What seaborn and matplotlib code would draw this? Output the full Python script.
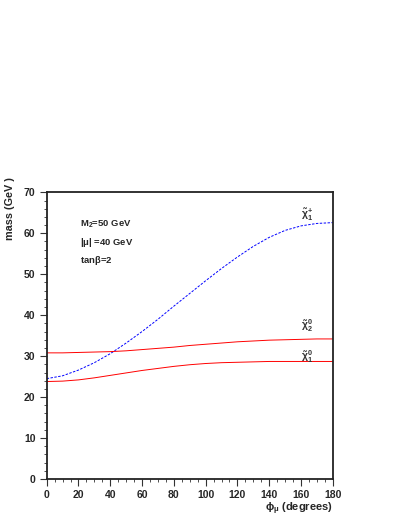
import pandas as pd
import seaborn as sns
import matplotlib.pyplot as plt
from matplotlib.ticker import MultipleLocator

# phase of mu (degrees) and masses (GeV)
phi = [0, 10, 20, 30, 40, 50, 60, 70, 80, 90, 100, 110, 120, 130, 140, 150, 160, 170, 180]
m_chargino1 = [24.5, 25.2, 26.6, 28.4, 30.6, 33.2, 36.0, 39.0, 42.2, 45.3, 48.4, 51.4, 54.2, 56.8, 59.0,
               60.7, 61.8, 62.4, 62.6]
m_neutralino2 = [30.8, 30.8, 30.9, 31.0, 31.1, 31.3, 31.6, 31.9, 32.2, 32.6, 32.9, 33.2, 33.5, 33.7, 33.9,
                 34.0, 34.1, 34.2, 34.2]
m_neutralino1 = [23.8, 23.9, 24.2, 24.7, 25.3, 25.9, 26.5, 27.0, 27.5, 27.9, 28.2, 28.4, 28.5, 28.6, 28.7,
                 28.7, 28.7, 28.7, 28.7]

df = pd.DataFrame({'phi': phi, 'c1': m_chargino1, 'n2': m_neutralino2, 'n1': m_neutralino1})

sns.set_style('ticks')
plt.rcParams['font.family'] = ['Liberation Sans', 'DejaVu Sans']
plt.rcParams['font.weight'] = 'bold'
plt.rcParams['mathtext.fontset'] = 'custom'
plt.rcParams['mathtext.rm'] = 'Liberation Sans'
plt.rcParams['mathtext.it'] = 'Liberation Sans'
plt.rcParams['mathtext.bf'] = 'Liberation Sans:bold'

fig = plt.figure(figsize=(3.99, 5.16), dpi=100, facecolor='white')
ax = fig.add_axes([0.117, 0.0717, 0.717, 0.5556])

sns.lineplot(data=df, x='phi', y='c1', ax=ax, color='#0000ff', linewidth=0.7, linestyle=(0, (2.5, 1.5)))
sns.lineplot(data=df, x='phi', y='n2', ax=ax, color='#ff0000', linewidth=0.7)
sns.lineplot(data=df, x='phi', y='n1', ax=ax, color='#ff0000', linewidth=0.7)

ax.set_xlim(0, 180)
ax.set_ylim(0, 70)
ax.xaxis.set_major_locator(MultipleLocator(20))
ax.xaxis.set_minor_locator(MultipleLocator(5))
ax.yaxis.set_major_locator(MultipleLocator(10))
ax.yaxis.set_minor_locator(MultipleLocator(2))
ax.tick_params(which='major', direction='out', length=5, width=0.8, labelsize=7.5, pad=3, color='#333333')
ax.tick_params(which='minor', direction='out', length=2.5, width=0.6, color='#333333')
for lab in ax.get_xticklabels() + ax.get_yticklabels():
    lab.set_fontweight('bold')
for s in ax.spines.values():
    s.set_linewidth(1.3)
    s.set_color('#222222')
    s.set_visible(True)

ax.set_xlabel(r'$\phi_{\mu}$ (degrees)', loc='right', fontsize=8, fontweight='bold')
ax.xaxis.set_label_coords(1.0, -0.075)
ax.set_ylabel('mass (GeV )', fontsize=7.8, fontweight='bold')
ax.yaxis.set_label_coords(-0.11, 0.945)

ax.text(21, 62.2, r'M$_{2}$=50 GeV', fontsize=6.8, fontweight='bold', va='center')
ax.text(21, 57.8, r'|$\mu$| =40 GeV', fontsize=6.8, fontweight='bold', va='center')
ax.text(21, 53.3, r'tan$\beta$=2', fontsize=6.8, fontweight='bold', va='center')

ax.text(160, 64.5, r'$\tilde{\chi}^{+}_{1}$', fontsize=7.5, va='center', color='#333333')
ax.text(160, 37.5, r'$\tilde{\chi}^{0}_{2}$', fontsize=7.5, va='center', color='#333333')
ax.text(160, 30.0, r'$\tilde{\chi}^{0}_{1}$', fontsize=7.5, va='center', color='#333333')

plt.savefig('out.png', dpi=100)
plt.close()
